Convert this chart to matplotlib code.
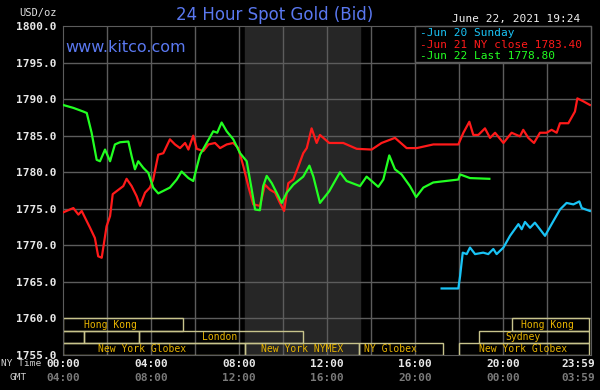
import matplotlib.pyplot as plt
import matplotlib.transforms as mtransforms
from matplotlib.patches import Rectangle

# Jun 21 (NY close 1783.40), NY time in hours
jun21_t = [0, 0.47, 0.7, 0.85, 1.23, 1.45, 1.6, 1.76, 1.98, 2.14, 2.26, 2.52, 2.74, 2.89, 3.12, 3.35,
           3.5, 3.73, 3.95, 4.1, 4.33, 4.56, 4.86, 5.09, 5.32, 5.55, 5.7, 5.92, 6.08, 6.38, 6.61, 6.91,
           7.14, 7.44, 7.74, 7.97, 8.2, 8.42, 8.65, 8.95, 9.18, 9.41, 9.64, 9.86, 10.05, 10.24, 10.47,
           10.7, 10.92, 11.08, 11.3, 11.53, 11.68, 12.1, 12.74, 13.35, 14.03, 14.48, 15.09, 15.62,
           16.08, 16.83, 17.97, 18.2, 18.47, 18.65, 18.88, 19.18, 19.41, 19.64, 20.02, 20.39, 20.77,
           20.92, 21.15, 21.41, 21.68, 21.98, 22.21, 22.44, 22.59, 22.97, 23.27, 23.38, 23.65, 23.95]
jun21_p = [1774.5, 1775.1, 1774.2, 1774.7, 1772.4, 1771.0, 1768.5, 1768.3, 1772.6, 1774.0, 1777.0,
           1777.6, 1778.1, 1779.1, 1778.1, 1776.7, 1775.4, 1777.2, 1777.9, 1779.0, 1782.4, 1782.6,
           1784.5, 1783.8, 1783.3, 1784.0, 1783.1, 1785.0, 1783.2, 1782.9, 1783.8, 1784.0, 1783.3,
           1783.8, 1784.0, 1783.3, 1780.8, 1778.1, 1775.6, 1775.4, 1778.3, 1777.6, 1777.2, 1775.8,
           1774.7, 1778.5, 1779.0, 1780.8, 1782.6, 1783.3, 1786.0, 1784.0, 1785.1, 1784.0, 1784.0,
           1783.2, 1783.1, 1784.0, 1784.7, 1783.3, 1783.3, 1783.8, 1783.8, 1785.4, 1786.9, 1785.1,
           1785.1, 1786.0, 1784.7, 1785.4, 1784.0, 1785.4, 1784.9, 1785.8, 1784.7, 1784.0, 1785.4,
           1785.4, 1785.8, 1785.4, 1786.7, 1786.7, 1788.3, 1790.1, 1789.7, 1789.2]

# Jun 22 (last 1778.80)
jun22_t = [0, 0.47, 0.92, 1.08, 1.3, 1.53, 1.68, 1.91, 2.14, 2.36, 2.59, 2.97, 3.12, 3.27, 3.42, 3.65,
           3.88, 4.1, 4.33, 4.86, 5.17, 5.39, 5.7, 5.92, 6.23, 6.53, 6.83, 7.01, 7.21, 7.44, 7.74, 8.05,
           8.35, 8.58, 8.73, 8.95, 9.1, 9.26, 9.49, 9.71, 9.94, 10.17, 10.47, 10.92, 11.2, 11.38, 11.68,
           12.1, 12.59, 12.89, 13.5, 13.8, 14.33, 14.56, 14.83, 15.09, 15.39, 15.77, 16.05, 16.38,
           16.83, 17.97, 18.05, 18.5, 19.38]
jun22_p = [1789.2, 1788.8, 1788.3, 1788.1, 1785.4, 1781.7, 1781.5, 1783.1, 1781.5, 1783.8, 1784.1,
           1784.2, 1782.2, 1780.4, 1781.5, 1780.6, 1779.9, 1777.9, 1777.1, 1777.9, 1779.0, 1780.1,
           1779.2, 1778.8, 1782.4, 1784.0, 1785.6, 1785.4, 1786.8, 1785.6, 1784.5, 1782.6, 1781.5,
           1777.6, 1774.9, 1774.8, 1778.1, 1779.5, 1778.5, 1777.2, 1775.8, 1777.2, 1778.3, 1779.4,
           1780.9, 1779.4, 1775.8, 1777.4, 1780.0, 1778.8, 1778.1, 1779.4, 1778.0, 1779.0, 1782.3,
           1780.4, 1779.7, 1778.1, 1776.6, 1777.9, 1778.6, 1779.0, 1779.7, 1779.2, 1779.1]

# Jun 20 (Sunday)
jun20_t = [17.21, 17.97, 18.05, 18.17, 18.35, 18.5, 18.73, 19.1, 19.33, 19.56, 19.71, 20.02, 20.32,
           20.7, 20.85, 21.0, 21.23, 21.45, 21.91, 22.21, 22.59, 22.89, 23.2, 23.47, 23.58, 23.95]
jun20_p = [1764.1, 1764.1, 1765.8, 1769.0, 1768.8, 1769.7, 1768.8, 1769.0, 1768.8, 1769.5, 1768.8,
           1769.7, 1771.3, 1772.9, 1772.2, 1773.2, 1772.4, 1773.1, 1771.3, 1772.9, 1774.9, 1775.8,
           1775.6, 1776.0, 1775.1, 1774.7]

# trading sessions: row (0 = top), start hour, end hour, name
sess_row = [0, 0, 1, 1, 1, 1, 2, 2, 2, 2]
sess_start = [0, 20.4, 0, 0.95, 3.45, 18.9, 0, 8.27, 13.45, 18.0]
sess_end = [5.45, 23.9, 0.95, 3.45, 10.9, 23.9, 8.27, 13.45, 17.27, 23.9]
sess_name = ['Hong Kong', 'Hong Kong', '', '', 'London', 'Sydney',
             'New York Globex', 'New York NYMEX', 'NY Globex', 'New York Globex']
sess_label_x = [2.15, 22.0, 0, 0, 7.1, 20.9, 3.6, 10.86, 14.9, 20.9]

nymex_span = (8.25, 13.5)

y_ticks = [1755, 1760, 1765, 1770, 1775, 1780, 1785, 1790, 1795, 1800]
x_ticks = [0, 4, 8, 12, 16, 20, 23.98]
ny_labels = ['00:00', '04:00', '08:00', '12:00', '16:00', '20:00', '23:59']
gmt_labels = ['04:00', '08:00', '12:00', '16:00', '20:00', '00:00', '03:59']

mono = 'DejaVu Sans Mono'
grid_c = '#5c5c5c'
box_c = '#c8c48c'
text_y = '#e8b400'

fig = plt.figure(figsize=(6, 3.9), dpi=100, facecolor='black')
ax = fig.add_axes([63 / 600, 1 - 355 / 390, 528 / 600, 329 / 390], facecolor='black')
ax.set_xlim(0, 24)
ax.set_ylim(1755, 1800)

ax.axvspan(*nymex_span, color='#262626', zorder=0)

for h in range(2, 24, 2):
    ax.axvline(h, color=grid_c, lw=1, zorder=1)
for v in range(1760, 1800, 5):
    ax.axhline(v, color=grid_c, lw=1, zorder=1)
for s in ax.spines.values():
    s.set_color(grid_c)

# session boxes
row_h = 5 / 3
for r, a, b, name, lx in zip(sess_row, sess_start, sess_end, sess_name, sess_label_x):
    y0 = 1760 - (r + 1) * row_h
    ax.add_patch(Rectangle((a, y0), b - a, row_h, fill=False, edgecolor=box_c, lw=1, zorder=2))
    if name:
        ax.text(lx, y0 + row_h / 2, name, color=text_y, fontsize=7, family=mono,
                ha='center', va='center', zorder=3)

ax.plot(jun21_t, jun21_p, color='#ff1a1a', lw=1.6, zorder=4)
ax.plot(jun22_t, jun22_p, color='#22ff22', lw=1.6, zorder=4)
ax.plot(jun20_t, jun20_p, color='#19c3f5', lw=1.6, zorder=4)

ax.set_yticks(y_ticks)
ax.set_yticklabels([f'{v:.1f}' for v in y_ticks], color='#e8e8e8', fontsize=8,
                   family=mono, fontweight='bold')
ax.tick_params(axis='y', length=0, pad=5)
ax.set_xticks([])

# x labels: NY time row and GMT row
trans = mtransforms.blended_transform_factory(ax.transData, fig.transFigure)
for t, ny, gmt in zip(x_ticks, ny_labels, gmt_labels):
    ha = 'right' if t > 23 else 'center'
    xx = t + 0.2 if t > 23 else t
    ax.text(xx, 1 - 364 / 390, ny, transform=trans, color='#e8e8e8', fontsize=8, family=mono,
            fontweight='bold', ha=ha, va='center')
    ax.text(xx, 1 - 378 / 390, gmt, transform=trans, color='#7a7a7a', fontsize=8, family=mono,
            fontweight='bold', ha=ha, va='center')
fig.text(1 / 600, 1 - 364 / 390, 'NY Time', color='#d0d0d0', fontsize=6.8, family=mono, va='center')
fig.text(10 / 600, 1 - 378 / 390, 'GMT', color='#d0d0d0', fontsize=6.8, family=mono, va='center')

# titles
fig.text(275 / 600, 1 - 15 / 390, '24 Hour Spot Gold (Bid)', color='#5a78f0', fontsize=12,
         family='DejaVu Sans', ha='center', va='center')
fig.text(65 / 600, 1 - 47 / 390, 'www.kitco.com', color='#5a78f0', fontsize=11.5,
         family='DejaVu Sans', ha='left', va='center')
fig.text(19 / 600, 1 - 13 / 390, 'USD/oz', color='#e0e0e0', fontsize=7.5, family=mono, va='center')
fig.text(580 / 600, 1 - 19 / 390, 'June 22, 2021 19:24', color='#f0f0f0', fontsize=8,
         family=mono, ha='right', va='center')

# legend box
ax.add_patch(Rectangle((415 / 600, 1 - 62 / 390), 176 / 600, 36 / 390, transform=fig.transFigure,
                       facecolor='black', edgecolor=grid_c, lw=1, zorder=5, clip_on=False))
leg_txt = ['-Jun 20 Sunday', '-Jun 21 NY close 1783.40', '-Jun 22 Last 1778.80']
leg_col = ['#19c3f5', '#ff1a1a', '#22ff22']
for i, (txt, c) in enumerate(zip(leg_txt, leg_col)):
    fig.text(420 / 600, 1 - (33 + i * 11.7) / 390, txt, color=c, fontsize=8, family=mono,
             va='center', zorder=6)

fig.savefig('out.png', dpi=100, facecolor='black')
